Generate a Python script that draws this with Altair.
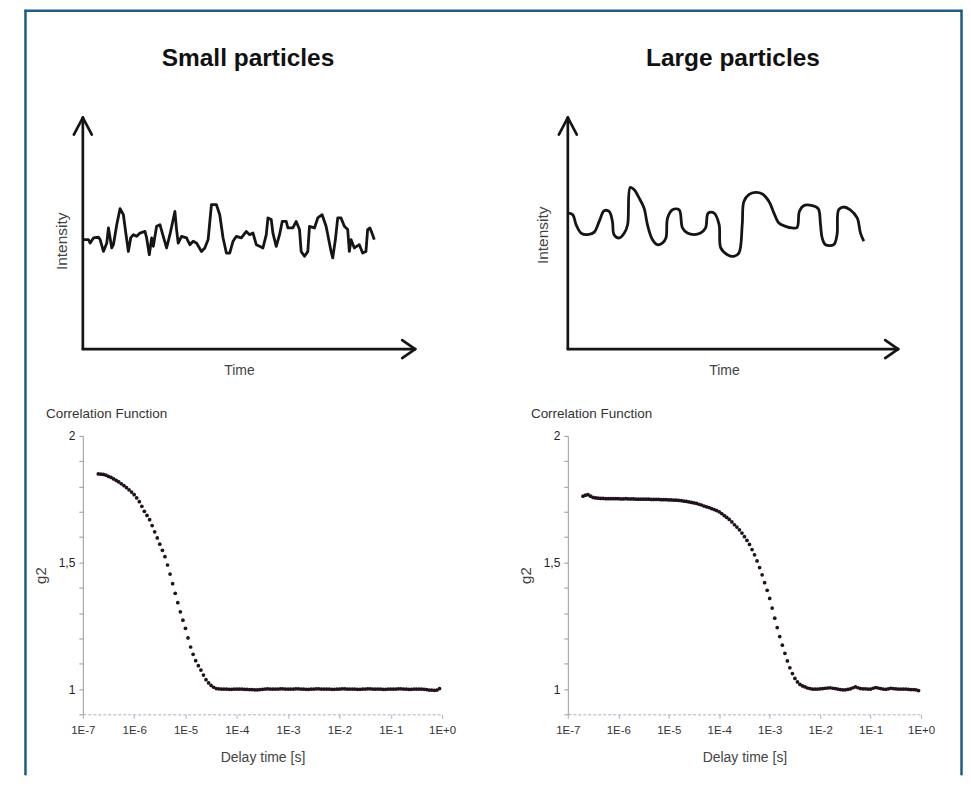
import altair as alt
import pandas as pd

FONT = "Liberation Sans, Arial, sans-serif"

# ---------------- intensity traces (arbitrary units) ----------------
small_time = [0.2, 1.7, 2.2, 3.2, 4.7, 5.2, 6.2, 7.2, 7.7, 8.2,
              8.7, 9.2, 10.2, 11.2, 12.2, 13.0, 13.7, 14.4, 15.2, 16.2,
              17.2, 18.7, 19.2, 20.0, 20.7, 21.2, 22.2, 23.2, 24.2, 25.2,
              26.2, 27.7, 28.2, 28.7, 29.7, 31.2, 32.2, 33.2, 34.2, 35.7,
              36.7, 37.7, 38.7, 40.2, 41.2, 42.2, 43.2, 44.2, 45.2, 46.2,
              47.7, 49.2, 50.2, 51.2, 52.2, 53.2, 54.2, 55.2, 55.7, 56.7,
              57.2, 58.2, 59.2, 60.0, 61.2, 61.7, 63.2, 64.2, 65.2, 65.7,
              66.7, 67.7, 68.2, 69.7, 70.7, 72.0, 73.2, 74.7, 75.2, 76.0,
              76.7, 77.7, 78.7, 79.7, 80.2, 80.7, 81.7, 83.2, 84.2, 85.2,
              85.7, 86.4, 87.2, 87.7]
small_intensity = [47.1, 47.1, 45.6, 47.8, 48.1, 47.1, 42.0, 45.6, 52.1, 47.8,
                   43.5, 44.9, 53.5, 60.4, 57.8, 49.2, 42.0, 47.8, 49.2, 48.5,
                   49.9, 50.6, 47.8, 40.6, 47.8, 44.2, 52.8, 53.5, 48.5, 43.5,
                   49.2, 59.2, 51.4, 45.6, 48.5, 47.8, 44.9, 46.4, 45.6, 42.0,
                   43.5, 47.1, 62.1, 62.1, 57.8, 47.8, 41.3, 41.3, 46.4, 48.5,
                   47.8, 50.6, 49.2, 49.9, 44.9, 44.2, 43.5, 49.2, 56.4, 55.7,
                   49.9, 44.2, 49.2, 54.9, 54.9, 52.1, 52.1, 54.9, 51.4, 42.0,
                   39.9, 42.0, 52.8, 52.1, 56.4, 57.8, 52.8, 42.0, 39.2, 47.1,
                   56.4, 56.4, 52.8, 51.4, 42.0, 47.1, 43.5, 44.9, 41.3, 42.0,
                   51.4, 52.1, 49.2, 47.1]

large_time = [0.25, 1.5, 2.5, 4.0, 6.0, 8.0, 9.5, 11.0, 12.5, 13.5,
              14.0, 15.6, 17.1, 18.1, 18.9, 20.1, 21.6, 23.1, 24.1, 25.6,
              27.1, 28.6, 29.7, 30.2, 31.7, 33.7, 34.7, 36.2, 38.2, 40.2,
              41.7, 42.5, 44.3, 45.8, 46.3, 48.3, 50.3, 51.8, 52.8, 53.3,
              54.8, 56.8, 58.9, 60.9, 62.4, 63.9, 65.9, 67.9, 69.4, 70.1,
              71.4, 74.0, 75.8, 76.5, 77.0, 78.0, 80.5, 81.5, 82.0, 83.5,
              85.5, 87.6, 88.6, 89.6]
large_intensity = [58.5, 57.8, 53.5, 49.9, 49.2, 50.3, 54.9, 59.5, 59.2, 54.9,
                   49.2, 47.8, 49.9, 53.5, 69.5, 68.5, 64.9, 60.6, 53.5, 47.1,
                   44.9, 45.6, 47.8, 56.4, 59.9, 59.9, 52.1, 49.9, 49.2, 49.9,
                   52.1, 58.5, 58.5, 53.5, 43.5, 40.6, 39.9, 41.3, 53.5, 63.5,
                   66.4, 67.4, 66.7, 63.5, 58.5, 54.2, 52.8, 52.1, 52.3, 59.2,
                   61.7, 61.7, 60.4, 53.5, 47.8, 44.9, 44.9, 49.2, 59.9, 61.1,
                   59.9, 56.4, 49.9, 46.4]

# ---------------- correlation functions ----------------
delay_time = [
    2.0e-7, 2.24e-7, 2.51e-7, 2.82e-7, 3.16e-7, 3.55e-7, 3.98e-7, 4.47e-7, 5.01e-7, 5.62e-7, 6.31e-7, 7.08e-7, 7.94e-7, 8.91e-7,
    1.0e-6, 1.12e-6, 1.26e-6, 1.41e-6, 1.58e-6, 1.78e-6, 2.0e-6, 2.24e-6, 2.51e-6, 2.82e-6, 3.16e-6, 3.55e-6, 3.98e-6, 4.47e-6, 5.01e-6, 5.62e-6, 6.31e-6, 7.08e-6, 7.94e-6, 8.91e-6,
    1.0e-5, 1.12e-5, 1.26e-5, 1.41e-5, 1.58e-5, 1.78e-5, 2.0e-5, 2.24e-5, 2.51e-5, 2.82e-5, 3.16e-5, 3.55e-5, 3.98e-5, 4.47e-5, 5.01e-5, 5.62e-5, 6.31e-5, 7.08e-5, 7.94e-5, 8.91e-5,
    1.0e-4, 1.12e-4, 1.26e-4, 1.41e-4, 1.58e-4, 1.78e-4, 2.0e-4, 2.24e-4, 2.51e-4, 2.82e-4, 3.16e-4, 3.55e-4, 3.98e-4, 4.47e-4, 5.01e-4, 5.62e-4, 6.31e-4, 7.08e-4, 7.94e-4, 8.91e-4,
    1.0e-3, 1.12e-3, 1.26e-3, 1.41e-3, 1.58e-3, 1.78e-3, 2.0e-3, 2.24e-3, 2.51e-3, 2.82e-3, 3.16e-3, 3.55e-3, 3.98e-3, 4.47e-3, 5.01e-3, 5.62e-3, 6.31e-3, 7.08e-3, 7.94e-3, 8.91e-3,
    1.0e-2, 1.12e-2, 1.26e-2, 1.41e-2, 1.58e-2, 1.78e-2, 2.0e-2, 2.24e-2, 2.51e-2, 2.82e-2, 3.16e-2, 3.55e-2, 3.98e-2, 4.47e-2, 5.01e-2, 5.62e-2, 6.31e-2, 7.08e-2, 7.94e-2, 8.91e-2,
    1.0e-1, 1.12e-1, 1.26e-1, 1.41e-1, 1.58e-1, 1.78e-1, 2.0e-1, 2.24e-1, 2.51e-1, 2.82e-1, 3.16e-1, 3.55e-1, 3.98e-1, 4.47e-1, 5.01e-1, 5.62e-1, 6.31e-1, 7.08e-1, 7.94e-1, 8.91e-1,
]
g2_small = [
    1.850, 1.849, 1.848, 1.845, 1.840, 1.836, 1.830, 1.824, 1.818, 1.811, 1.804, 1.796, 1.787, 1.778,
    1.768, 1.755, 1.740, 1.722, 1.702, 1.686, 1.669, 1.646, 1.621, 1.597, 1.572, 1.548, 1.523, 1.490, 1.454, 1.416, 1.378, 1.341, 1.305, 1.272,
    1.240, 1.202, 1.166, 1.137, 1.112, 1.092, 1.075, 1.055, 1.037, 1.024, 1.014, 1.007, 1.002, 1.001, 1.000, 1.000, 1.000, 0.999, 0.999, 1.000,
    1.000, 1.000, 1.000, 0.999, 0.999, 0.998, 0.998, 0.997, 0.997, 0.998, 0.999, 1.000, 1.001, 1.000, 1.000, 1.000, 1.000, 1.001, 1.001, 1.000,
    1.000, 1.000, 1.000, 1.001, 1.001, 1.000, 1.000, 0.999, 0.999, 1.000, 1.000, 1.001, 1.001, 1.000, 1.000, 1.000, 1.000, 0.999, 0.999, 1.000,
    1.000, 1.001, 1.001, 1.000, 1.000, 1.000, 1.000, 0.999, 0.999, 1.000, 1.000, 1.001, 1.001, 1.000, 1.000, 1.000, 1.000, 0.999, 0.999, 1.000,
    1.000, 1.000, 1.000, 1.001, 1.001, 1.000, 1.000, 0.999, 0.999, 1.000, 1.000, 1.000, 1.000, 0.999, 0.998, 0.996, 0.996, 0.995, 0.996, 1.002,
]
g2_large = [
    1.762, 1.766, 1.768, 1.762, 1.757, 1.755, 1.754, 1.753, 1.753, 1.752, 1.752, 1.752, 1.752, 1.752,
    1.752, 1.751, 1.751, 1.752, 1.751, 1.751, 1.751, 1.750, 1.750, 1.750, 1.750, 1.750, 1.750, 1.749, 1.749, 1.749, 1.749, 1.748, 1.748, 1.748,
    1.747, 1.747, 1.746, 1.746, 1.745, 1.744, 1.742, 1.741, 1.739, 1.737, 1.735, 1.733, 1.730, 1.727, 1.723, 1.720, 1.717, 1.713, 1.709, 1.705,
    1.700, 1.693, 1.685, 1.678, 1.670, 1.660, 1.649, 1.640, 1.629, 1.616, 1.602, 1.587, 1.571, 1.551, 1.530, 1.506, 1.480, 1.451, 1.420, 1.390,
    1.358, 1.320, 1.280, 1.243, 1.207, 1.173, 1.141, 1.111, 1.084, 1.061, 1.042, 1.028, 1.018, 1.012, 1.008, 1.004, 1.002, 1.000, 1.000, 1.000,
    1.001, 1.002, 1.003, 1.004, 1.005, 1.003, 1.002, 1.000, 0.998, 0.997, 0.997, 0.999, 1.001, 1.005, 1.008, 1.005, 1.002, 1.001, 1.001, 1.000,
    1.000, 1.003, 1.006, 1.004, 1.002, 1.000, 0.999, 1.001, 1.003, 1.002, 1.001, 1.000, 1.000, 1.000, 1.000, 0.999, 0.998, 0.998, 0.997, 0.994,
]

x_ticks = [1e-7, 1e-6, 1e-5, 1e-4, 1e-3, 1e-2, 1e-1, 1e0]
y_ticks = [0.9, 1.0, 1.1, 1.2, 1.3, 1.4, 1.5, 1.6, 1.7, 1.8, 1.9, 2.0]

one = pd.DataFrame({"k": [0]})

FRAME = "#1e5d85"
INK = "#151515"


def rule(x, y, x2, y2, color=INK, width=2.7):
    return alt.Chart(one).mark_rule(color=color, strokeWidth=width, strokeCap="round").encode(
        x=alt.value(x), y=alt.value(y), x2=alt.value(x2), y2=alt.value(y2))


def label(text, x, y, size, color="#444", angle=0, weight="normal", align="center"):
    return alt.Chart(one).mark_text(
        text=text, font=FONT, fontSize=size, color=color, angle=angle,
        fontWeight=weight, align=align, baseline="middle").encode(
        x=alt.value(x), y=alt.value(y))


def trace_panel(times, values, w, h, interp, title, ilab_x, ilab_y):
    df = pd.DataFrame({"time": times, "intensity": values})
    line = alt.Chart(df).mark_line(color=INK, strokeWidth=2.8, interpolate=interp,
                                   strokeJoin="round").encode(
        x=alt.X("time:Q", scale=alt.Scale(domain=[0, 100], nice=False), axis=None),
        y=alt.Y("intensity:Q", scale=alt.Scale(domain=[0, 100], nice=False, zero=False), axis=None),
    )
    layers = [
        rule(0, h, 0, 1),
        rule(0, h, w, h),
        rule(0, 1, -9, 18), rule(0, 1, 9, 18),
        rule(w, h, w - 13, h - 9), rule(w, h, w - 13, h + 9),
        line,
        label(title, 165.5, -58, 24.5, color="#111", weight="bold"),
        label("Intensity", ilab_x, ilab_y, 15.5, angle=270),
        label("Time", 157, 255, 14),
    ]
    return alt.layer(*layers).properties(width=w, height=h)


def corr_panel(g2, w):
    df = pd.DataFrame({"tau": delay_time, "g2": g2})
    pts = alt.Chart(df).mark_circle(size=14, color="#22121e", opacity=1).encode(
        x=alt.X("tau:Q",
                scale=alt.Scale(type="log", domain=[1e-7, 1], nice=False),
                axis=alt.Axis(values=x_ticks, title="Delay time [s]",
                              labelExpr="'1E' + (round(log(datum.value)/LN10) >= 0 ? '+' : '') + round(log(datum.value)/LN10)",
                              domainDash=[3, 2], domainColor="#b4aac4", tickColor="#b4aac4",
                              tickSize=4, labelPadding=6, labelFontSize=11.5, labelColor="#333",
                              titleFontSize=14, titleColor="#444", titleFontWeight="normal",
                              titlePadding=15, grid=False, labelFlush=False)),
        y=alt.Y("g2:Q",
                scale=alt.Scale(domain=[0.9, 2.0], nice=False, zero=False),
                axis=alt.Axis(values=y_ticks, title="g2",
                              labelExpr="abs(datum.value - 2) < 1e-6 ? '2' : (abs(datum.value - 1.5) < 1e-6 ? '1,5' : (abs(datum.value - 1) < 1e-6 ? '1' : ''))",
                              domainColor="#999", tickColor="#999", tickSize=4,
                              labelPadding=4, labelFontSize=12, labelColor="#222",
                              titleFontSize=15, titleColor="#444", titleFontWeight="normal",
                              titlePadding=10, grid=False)),
    )
    title = label("Correlation Function", -37, -22, 13.5, color="#333", align="left")
    return alt.layer(pts, title).properties(width=w, height=279)


tl = trace_panel(small_time, small_intensity, 333, 233, "linear", "Small particles", -21, 125)
# frame around the whole figure
tl = alt.layer(
    tl,
    rule(-57.5, -106, -57.5, 659, color=FRAME, width=2.5),
    rule(-57.5, -106, 880.5, -106, color=FRAME, width=2.5),
    rule(880.5, -106, 880.5, 659, color=FRAME, width=2.5),
).properties(width=333, height=233)

tr = trace_panel(large_time, large_intensity, 331, 233, "catmull-rom", "Large particles", -25, 119)
bl = corr_panel(g2_small, 360)
br = corr_panel(g2_large, 354)

chart = alt.concat(tl, tr, bl, br, columns=2, spacing={"row": 87, "column": 126}).properties(
    bounds="flush",
    padding={"left": 16, "top": 0, "right": 0, "bottom": 0},
).configure_view(strokeWidth=0).configure_axis(labelFont=FONT, titleFont=FONT)

chart.save("out.html", embed_options={"renderer": "svg", "actions": False})
